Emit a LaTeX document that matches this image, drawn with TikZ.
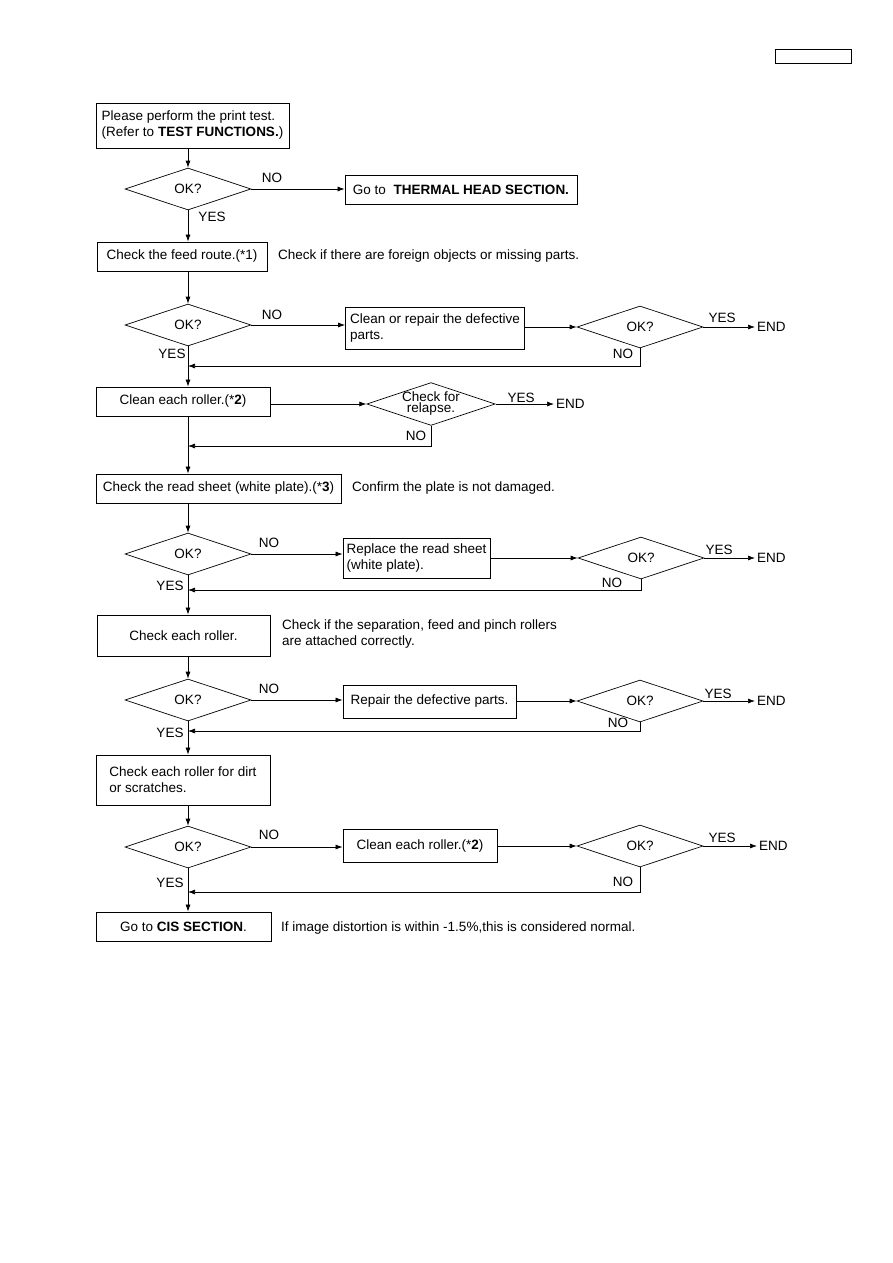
\documentclass[tikz,border=0pt]{standalone}
\usepackage{fontspec}
\setmainfont{Liberation Sans}
\usetikzlibrary{shapes.geometric,arrows.meta}
\newcommand{\fs}{\fontsize{13.5}{16}\selectfont}
\tikzset{
  box/.style={draw, line width=0.8pt, inner sep=3pt, font=\fs},
  dia/.style={draw, diamond, aspect=3, inner sep=0pt, line width=0.7pt, minimum width=126pt, minimum height=42pt, font=\fs},
  arr/.style={-{Latex[length=7pt,width=5pt]}, line width=0.7pt},
  lab/.style={inner sep=0pt, font=\fs},
  endl/.style={inner sep=2pt, anchor=west, font=\fs},
  note/.style={inner sep=0pt, anchor=west, align=left, font=\fs},
}
\begin{document}
\begin{tikzpicture}[x=1pt,y=-1pt]
\useasboundingbox (0,0) rectangle (893,1263);
\node[draw, line width=0.8pt, minimum width=76pt, minimum height=14pt, inner sep=0pt] (hdr) at (813,56) {};

% column
\node[box, minimum width=193pt, minimum height=45pt, align=left] (b1) at (192.5,125.5) {Please perform the print test.\\(Refer to \textbf{TEST FUNCTIONS.})};
\node[dia] (d1) at (188,189) {OK?};
\node[box, minimum width=232pt, minimum height=29pt] (bt) at (461,189.5) {Go to\ \ \textbf{THERMAL HEAD SECTION.}};
\node[box, minimum width=170pt, minimum height=29pt] (b2) at (182,256.5) {Check the feed route.(*1)};
\node[note] (n2) at (278,256) {Check if there are foreign objects or missing parts.};
\node[dia] (d2) at (188,325) {OK?};
\node[box, minimum width=179pt, minimum height=42pt, align=left] (b3) at (435,328) {Clean or repair the defective\\parts.};
\node[dia] (d3) at (640,327) {OK?};
\node[endl] (e3) at (755,327) {END};
\node[box, minimum width=174pt, minimum height=29pt] (b4) at (183,401.5) {Clean each roller.(*\textbf{2})};
\node[dia, font=\fontsize{13.5}{11}\selectfont, align=center] (d4) at (431,404) {Check for\\relapse.};
\node[endl] (e4) at (554,404) {END};
\node[box, minimum width=245pt, minimum height=29pt] (b5) at (218.5,488.5) {Check the read sheet (white plate).(*\textbf{3})};
\node[note] (n5) at (352,488) {Confirm the plate is not damaged.};
\node[dia] (d5) at (188,554) {OK?};
\node[box, minimum width=147pt, minimum height=40pt, align=left] (b6) at (416.5,558) {Replace the read sheet\\(white plate).};
\node[dia] (d6) at (641,558) {OK?};
\node[endl] (e6) at (755,558) {END};
\node[box, minimum width=173pt, minimum height=41pt] (b7) at (183.5,635.5) {Check each roller.};
\node[note] (n7) at (282,634.5) {Check if the separation, feed and pinch rollers\\are attached correctly.};
\node[dia] (d7) at (188,700) {OK?};
\node[box, minimum width=173pt, minimum height=33pt] (b8) at (429.5,701.5) {Repair the defective parts.};
\node[dia] (d8) at (640,701) {OK?};
\node[endl] (e8) at (755,701) {END};
\node[box, minimum width=174pt, minimum height=50pt, align=left] (b9) at (183,780) {Check each roller for dirt\\or scratches.};
\node[dia] (d9) at (188,847) {OK?};
\node[box, minimum width=154pt, minimum height=33pt] (b10) at (420,845.5) {Clean each roller.(*\textbf{2})};
\node[dia] (d10) at (640,846) {OK?};
\node[endl] (e10) at (757,846) {END};
\node[box, minimum width=175pt, minimum height=29pt] (b11) at (183.5,926.5) {Go to \textbf{CIS SECTION}.};
\node[note] (n11) at (281,928) {If image distortion is within -1.5\%,this is considered normal.};

% return points on main column
\coordinate (r3) at (188,366);
\coordinate (r4) at (188,446);
\coordinate (r6) at (188,590);
\coordinate (r8) at (188,731);
\coordinate (r10) at (188,892);

% main column arrows
\draw[arr] (b1.south -| d1.north) -- (d1.north);
\draw[arr] (d1.south) -- (d1.south |- b2.north);
\draw[arr] (b2.south -| d2.north) -- (d2.north);
\draw[arr] (d2.south) -- (d2.south |- b4.north);
\draw[arr] (b4.south -| d2.south) -- (b5.north -| d2.south);
\draw[arr] (b5.south -| d5.north) -- (d5.north);
\draw[arr] (d5.south) -- (d5.south |- b7.north);
\draw[arr] (b7.south -| d7.north) -- (d7.north);
\draw[arr] (d7.south) -- (d7.south |- b9.north);
\draw[arr] (b9.south -| d9.north) -- (d9.north);
\draw[arr] (d9.south) -- (d9.south |- b11.north);

% NO branches
\draw[arr] (d1.east) -- (d1.east -| bt.west);
\draw[arr] (d2.east) -- (d2.east -| b3.west);
\draw[arr] (b3.east |- d3.west) -- (d3.west);
\draw[arr] (d3.east) -- (e3.west);
\draw[arr] (d3.south) |- (r3);
\draw[arr] (b4.east |- d4.west) -- (d4.west);
\draw[arr] (d4.east) -- (e4.west);
\draw[arr] (d4.south) |- (r4);
\draw[arr] (d5.east) -- (d5.east -| b6.west);
\draw[arr] (b6.east |- d6.west) -- (d6.west);
\draw[arr] (d6.east) -- (e6.west);
\draw[arr] (d6.south) |- (r6);
\draw[arr] (d7.east) -- (d7.east -| b8.west);
\draw[arr] (b8.east |- d8.west) -- (d8.west);
\draw[arr] (d8.east) -- (e8.west);
\draw[arr] (d8.south) |- (r8);
\draw[arr] (d9.east) -- (d9.east -| b10.west);
\draw[arr] (b10.east |- d10.west) -- (d10.west);
\draw[arr] (d10.east) -- (e10.west);
\draw[arr] (d10.south) |- (r10);

% labels
\node[lab] (l1n) at (272,178) {NO};
\node[lab] (l1y) at (212,217) {YES};
\node[lab] (l2n) at (272,315) {NO};
\node[lab] (l2y) at (172,354) {YES};
\node[lab] (l3y) at (722,318) {YES};
\node[lab] (l3n) at (623,354) {NO};
\node[lab] (l4y) at (521,398) {YES};
\node[lab] (l4n) at (416,436) {NO};
\node[lab] (l5n) at (269,543) {NO};
\node[lab] (l5y) at (170,586) {YES};
\node[lab] (l6y) at (719,550) {YES};
\node[lab] (l6n) at (612,583) {NO};
\node[lab] (l7n) at (269,689) {NO};
\node[lab] (l7y) at (170,733) {YES};
\node[lab] (l8y) at (718,694) {YES};
\node[lab] (l8n) at (618,723) {NO};
\node[lab] (l9n) at (269,835) {NO};
\node[lab] (l9y) at (170,883) {YES};
\node[lab] (l10y) at (722,838) {YES};
\node[lab] (l10n) at (623,882) {NO};
\end{tikzpicture}
\end{document}
